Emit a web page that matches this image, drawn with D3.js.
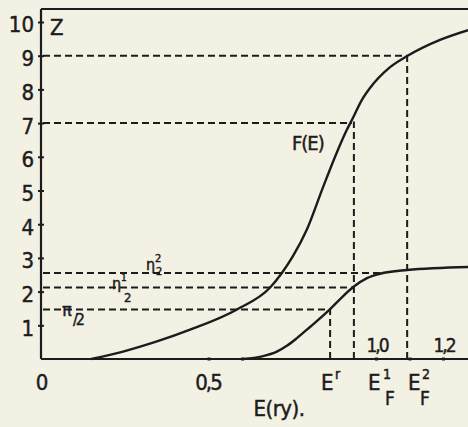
<!DOCTYPE html>
<html>
<head>
<meta charset="utf-8">
<script src="https://cdn.jsdelivr.net/npm/d3@7"></script>
<style>
html,body{margin:0;padding:0;background:#f3f0e4;}
svg{display:block;}
text{font-family:"DejaVu Sans Condensed","DejaVu Sans",sans-serif;fill:#1c1c1c;stroke:#1c1c1c;stroke-width:0.45px;}
</style>
</head>
<body>
<svg id="chart" width="468" height="427"></svg>
<script>
// ---- data ----
const yTickValues = [1,2,3,4,5,6,7,8,9,10];
const xTickMarks = [0.5, 0.6, 1.0, 1.1, 1.2];
// F(E) upper curve [E, Z]
const upperE = [0.150,0.245,0.346,0.445,0.585,0.684,0.719,0.752,0.794,0.842,0.884,0.913,0.928,0.958,0.982,1.042,1.093,1.191,1.275];
const upperZ = [0.00,0.22,0.52,0.87,1.47,2.12,2.55,3.05,3.85,5.10,6.15,6.80,7.09,7.69,8.04,8.66,8.99,9.47,9.76];
// lower curve [E, Z]
const lowerE = [0.603,0.660,0.704,0.735,0.764,0.803,0.863,0.893,0.934,0.973,1.012,1.093,1.275];
const lowerZ = [0.00,0.08,0.22,0.40,0.62,0.95,1.48,1.78,2.15,2.40,2.53,2.64,2.73];
// dashed reference lines
const hDashZ = [9, 7, 2.55, 2.12, 1.47];
const hDashE = [1.093, 0.928, 1.012, 0.934, 0.863];
const vDashE = [0.863, 0.934, 1.093];
const vDashZ = [1.47, 7.05, 9];

const ink = "#1c1c1c";
const svg = d3.select("#chart");
const x = d3.scaleLinear().domain([0, 1.2]).range([41, 443]);
const y = d3.scaleLinear().domain([0, 10]).range([359, 22]);

// frame top line and axes
svg.append("line").attr("x1", x(0)).attr("x2", 468).attr("y1", 9).attr("y2", 9)
  .attr("stroke", ink).attr("stroke-width", 1.8);

const yAxis = d3.axisLeft(y).tickValues(yTickValues).tickSize(3).tickFormat(d3.format("d"));
const gy = svg.append("g").attr("transform", `translate(${x(0)},0)`).call(yAxis);
gy.select(".domain").remove();
gy.selectAll(".tick line").attr("stroke", ink).attr("stroke-width", 2).attr("x2", 3).attr("x1", -3);
gy.selectAll(".tick text").attr("x", -7).attr("dy", "0.45em").attr("font-size", 22).attr("fill", ink);
svg.append("line").attr("x1", x(0)).attr("x2", x(0)).attr("y1", 9).attr("y2", y(0))
  .attr("stroke", ink).attr("stroke-width", 2.2);

const xAxis = d3.axisBottom(x).tickValues(xTickMarks).tickSize(2).tickFormat("");
const gx = svg.append("g").attr("transform", `translate(0,${y(0)})`).call(xAxis);
gx.select(".domain").remove();
gx.selectAll(".tick line").attr("stroke", ink).attr("stroke-width", 3).attr("y1", -1.5).attr("y2", 1.5);
svg.append("line").attr("x1", x(0)).attr("x2", 468).attr("y1", y(0)).attr("y2", y(0))
  .attr("stroke", ink).attr("stroke-width", 2);

// dashed lines
const dash = "7,4";
hDashZ.forEach((z, i) => {
  svg.append("line").attr("x1", x(0) + 2).attr("x2", x(hDashE[i]))
    .attr("y1", y(z)).attr("y2", y(z))
    .attr("stroke", ink).attr("stroke-width", 2).attr("stroke-dasharray", dash);
});
vDashE.forEach((e, i) => {
  svg.append("line").attr("x1", x(e)).attr("x2", x(e))
    .attr("y1", y(0)).attr("y2", y(vDashZ[i]))
    .attr("stroke", ink).attr("stroke-width", 2).attr("stroke-dasharray", dash);
});

// curves
const line = d3.line().x(d => x(d[0])).y(d => y(d[1])).curve(d3.curveMonotoneX);
svg.append("path").datum(upperE.map((e, i) => [e, upperZ[i]]))
  .attr("d", line).attr("fill", "none").attr("stroke", ink).attr("stroke-width", 2.4);
svg.append("path").datum(lowerE.map((e, i) => [e, lowerZ[i]]))
  .attr("d", line).attr("fill", "none").attr("stroke", ink).attr("stroke-width", 2.4);

// labels
function txt(tx, ty, s, size, anchor) {
  return svg.append("text").attr("x", tx).attr("y", ty).attr("font-size", size)
    .attr("text-anchor", anchor || "start").text(s);
}
txt(50, 35, "Z", 22);
txt(292, 150, "F(E)", 20).attr("letter-spacing", -1);
// x labels
txt(42, 390, "0", 22, "middle");
txt(208, 390, "0,5", 22, "middle").attr("letter-spacing", -2);
txt(377, 352, "1,0", 19, "middle").attr("letter-spacing", -2);
txt(444, 352, "1,2", 19, "middle").attr("letter-spacing", -2);
txt(279, 416, "E(ry).", 22, "middle").attr("letter-spacing", -0.5);
// E^r
txt(321, 390, "E", 22);
txt(335, 379, "r", 14);
// E_F^1
txt(368, 390, "E", 22);
txt(383, 379, "1", 14);
txt(385, 405, "F", 19);
// E_F^2
txt(408, 390, "E", 22);
txt(422, 379, "2", 14);
txt(420, 405, "F", 19);
// pi/2
txt(62, 316, "π", 18);
txt(73, 325, "/2", 16).attr("letter-spacing", -2);
// eta^1/2
txt(112, 289, "η", 16);
txt(121, 281, "1", 10);
txt(124, 302, "2", 13);
// eta^2/2
txt(146, 270, "η", 16);
txt(155, 262, "2", 11);
txt(156, 275, "2", 11);
</script>
</body>
</html>
